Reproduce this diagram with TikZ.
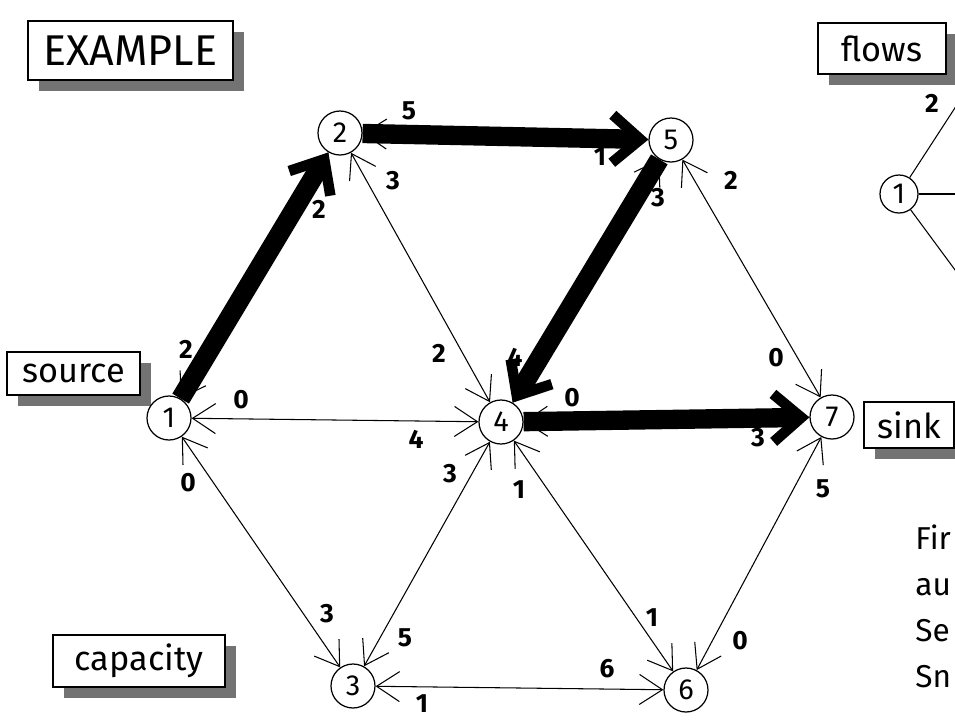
\documentclass[tikz,border=0pt]{standalone}
\usepackage{fontspec}
\setmainfont{Fira Sans}
\usetikzlibrary{arrows.meta}
\usetikzlibrary{shadows}
\tikzset{
    vnode/.style = {circle, draw=black, line width=0.7pt, minimum size=8.8mm, inner sep=0pt, fill=white, font=\fontsize{16.5}{18}\selectfont},
    vnodes/.style = {vnode, minimum size=7.6mm},
    tagbox/.style = {draw=black, line width=1.1pt, fill=white, inner sep=0pt, font=\fontsize{19.5}{22}\selectfont,
        drop shadow={shadow xshift=2.2mm, shadow yshift=-2.2mm, opacity=1, fill=black!55}},
    wlabel/.style = {inner sep=0pt, font=\bfseries\fontsize{15}{17}\selectfont},
    notetext/.style = {inner sep=0pt, anchor=base west, font=\fontsize{18}{20}\selectfont},
    edgen/.style = {<->, >={Straight Barb[length=4.6mm,width=6mm]}, line width=0.6pt}, % capacity arcs
    edgef/.style = {-{Straight Barb[length=5.6mm,width=9.6mm,line width'=6pt]}, line width=11pt}, % flow
    edgem/.style = {-, line width=0.6pt}
}
\begin{document}
\begin{tikzpicture}[x=0.2mm, y=-0.2mm]
\useasboundingbox (0,0) rectangle (955,719);
\fill[white] (0,0) rectangle (955,719);
\clip (0,0) rectangle (955,719);

\node[tagbox, minimum width=41mm, minimum height=11.8mm, font=\fontsize{24.5}{28}\selectfont] at (130.5,50.5) (ex) {EXAMPLE};
\node[tagbox, minimum width=25.6mm, minimum height=10.2mm] at (882,48.5) (fl) {flows};
\node[tagbox, minimum width=26.6mm, minimum height=8.6mm] at (73.5,373.5) (src) {source};
\node[tagbox, minimum width=18mm, minimum height=9.2mm] at (909,425) (snk) {sink};
\node[tagbox, minimum width=34.4mm, minimum height=10.4mm] at (139,661) (cap) {capacity};

\node[vnode] at (169,418) (n1) {1};
\node[vnode] at (340,133) (n2) {2};
\node[vnode] at (353,686) (n3) {3};
\node[vnode] at (501,422) (n4) {4};
\node[vnode] at (671,140) (n5) {5};
\node[vnode] at (686,690) (n6) {6};
\node[vnode] at (832,417) (n7) {7};
%
\foreach \a/\b in {1/2, 2/5, 5/4, 4/7, 2/4, 5/7, 1/4, 1/3, 4/3, 4/6, 7/6, 3/6}
    \draw[edgen] (n\a) -- (n\b);

\foreach \x/\y/\w [count=\i] in {186/349/2, 319/209/2, 409/111/5, 600/157/1, 658/198/3, 515/357/4,
    572/398/0, 758/438/3, 393/181/3, 439/353/2, 731/180/2, 776/358/0, 241/400/0, 416/439/4,
    188/483/0, 327/614/3, 450/474/3, 405/638/5, 519/490/1, 652/618/1, 823/489/5, 740/641/0,
    422/704/1, 607/669/6}
    \node[wlabel] at (\x,\y) (w\i) {\w};

% flows along the path 1-2-5-4-7
\draw[edgef] (n1) -- (n2);
\draw[edgef] (n2) -- (n5);
\draw[edgef] (n5) -- (n4);
\draw[edgef] (n4) -- (n7);

% second copy, cut at the edge
\node[vnodes] at (899,194) (f1) {1};
\coordinate (f2) at (975,77);
\coordinate (f4) at (975,194);
\coordinate (f3) at (975,297);
\draw[edgem] (f1) -- (f2);
\draw[edgem] (f1) -- (f4);
\draw[edgem] (f1) -- (f3);
\node[wlabel] at (932,103) (fw1) {2};

\foreach \t [count=\i] in {Fir, au, Se, Sn}
    \node[notetext] at (915,{549+46*(\i-1)}) (t\i) {\t};
\end{tikzpicture}
\end{document}
